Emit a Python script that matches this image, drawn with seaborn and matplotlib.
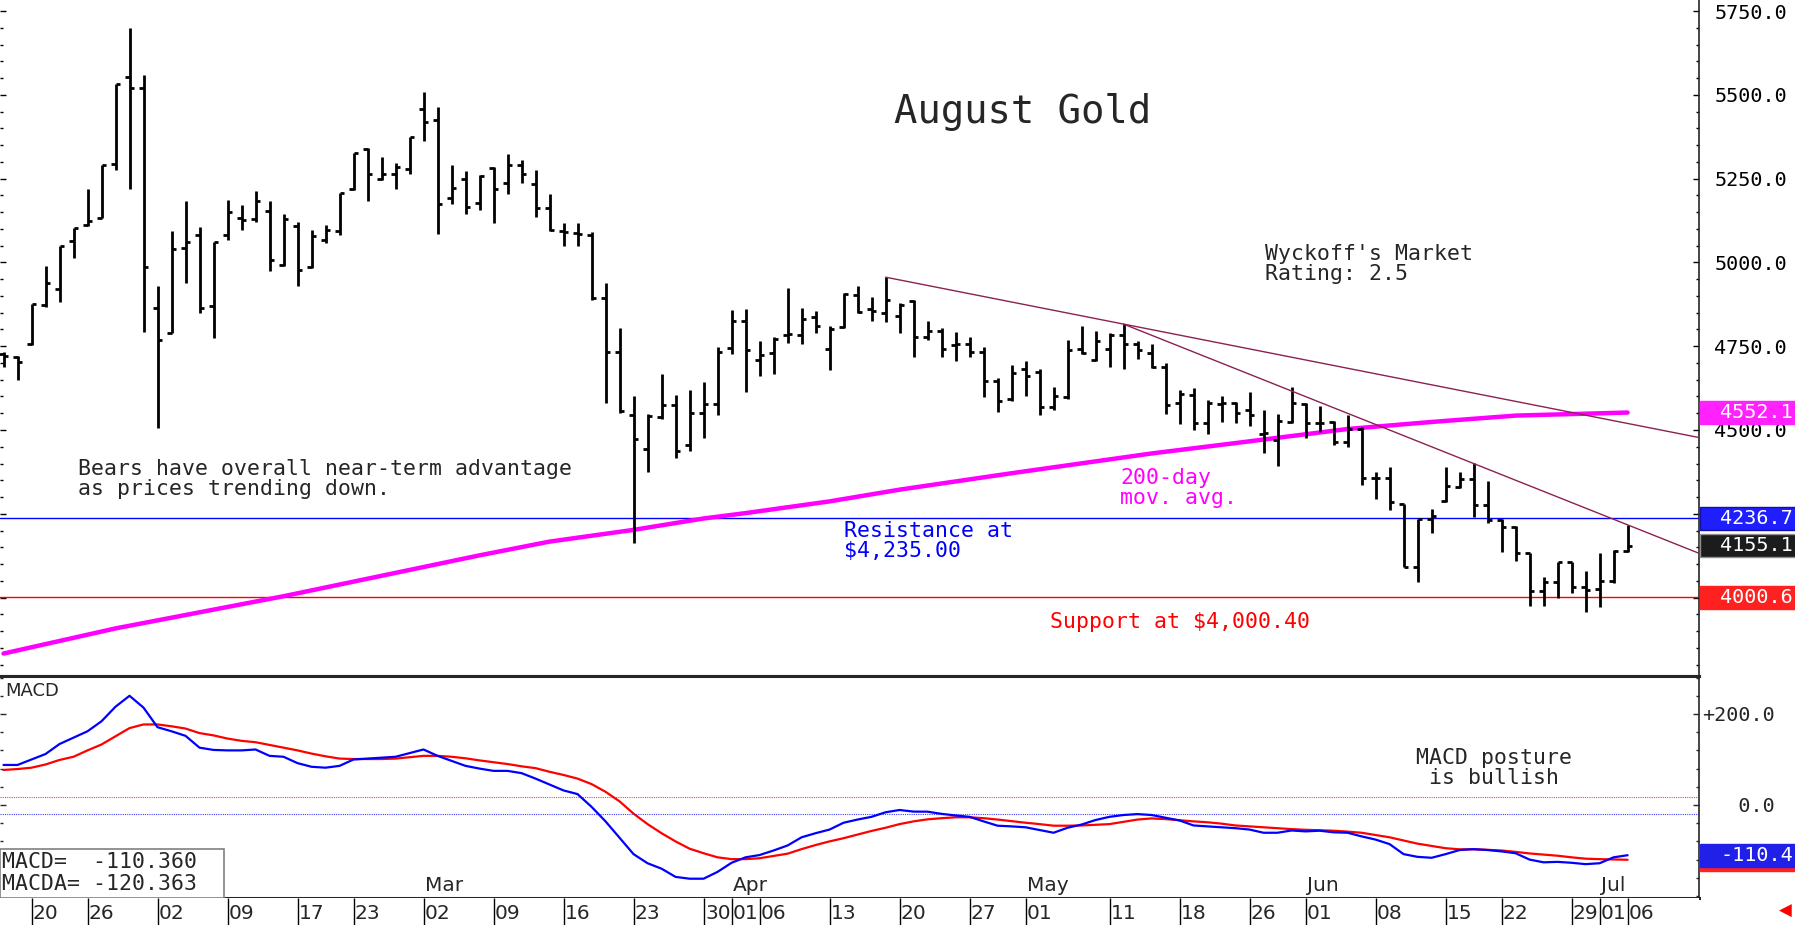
import numpy as np
import pandas as pd
import matplotlib
matplotlib.use("Agg")
import matplotlib.pyplot as plt
import matplotlib.transforms as mtransforms
from matplotlib.patches import Rectangle
from matplotlib.ticker import MultipleLocator, FixedLocator
import seaborn as sns

# ---- data ----
# trading calendar: weekdays minus exchange holidays
holidays = ["2026-01-19", "2026-02-16", "2026-04-03", "2026-05-25", "2026-06-19", "2026-07-03"]
dates = pd.bdate_range("2026-01-15", "2026-07-06", freq="C", holidays=holidays)

opens = [4727, 4717, 4756, 4872, 4922, 5065, 5112, 5134, 5294, 5552,
         5519, 4863, 4788, 5042, 5081, 4871, 5082, 5134, 5129, 5154,
         4992, 5109, 4986, 5067, 5094, 5218, 5338, 5248, 5264, 5280,
         5457, 5425, 5191, 5249, 5178, 5283, 5236, 5291, 5235, 5161,
         5095, 5089, 5082, 4893, 4734, 4545, 4442, 4540, 4575, 4455,
         4550, 4577, 4744, 4826, 4709, 4729, 4782, 4783, 4836, 4743,
         4806, 4903, 4860, 4850, 4840, 4886, 4777, 4795, 4753, 4756,
         4732, 4646, 4592, 4682, 4674, 4568, 4599, 4742, 4710, 4742,
         4782, 4756, 4729, 4687, 4582, 4604, 4520, 4577, 4580, 4560,
         4488, 4470, 4525, 4578, 4522, 4523, 4465, 4503, 4356, 4356,
         4279, 4092, 4234, 4289, 4331, 4354, 4275, 4230, 4212, 4132,
         4020, 4046, 4105, 4033, 4025, 4048, 4139]
highs = [4732, 4721, 4875, 4989, 5050, 5104, 5219, 5291, 5531, 5698,
         5558, 4930, 5094, 5182, 5105, 5062, 5185, 5170, 5212, 5182,
         5143, 5121, 5096, 5112, 5206, 5327, 5340, 5315, 5296, 5375,
         5509, 5463, 5290, 5274, 5260, 5286, 5323, 5307, 5275, 5205,
         5119, 5119, 5092, 4938, 4803, 4601, 4547, 4666, 4604, 4619,
         4644, 4749, 4858, 4860, 4767, 4776, 4923, 4863, 4856, 4810,
         4908, 4930, 4898, 4956, 4880, 4888, 4824, 4805, 4791, 4778,
         4749, 4656, 4693, 4707, 4681, 4629, 4769, 4809, 4795, 4788,
         4816, 4767, 4756, 4701, 4619, 4624, 4590, 4602, 4585, 4614,
         4560, 4548, 4627, 4580, 4572, 4527, 4545, 4510, 4374, 4389,
         4279, 4235, 4264, 4391, 4376, 4401, 4349, 4234, 4215, 4132,
         4061, 4107, 4105, 4079, 4134, 4142, 4217]
lows = [4689, 4649, 4754, 4866, 4883, 5014, 5109, 5132, 5275, 5218,
        4793, 4505, 4788, 4939, 4848, 4774, 5067, 5097, 5120, 4975,
        4989, 4930, 4983, 5057, 5081, 5216, 5184, 5246, 5220, 5264,
        5362, 5084, 5173, 5143, 5156, 5117, 5203, 5238, 5137, 5094,
        5050, 5050, 4888, 4580, 4552, 4162, 4376, 4532, 4416, 4437,
        4477, 4545, 4727, 4614, 4662, 4666, 4759, 4756, 4788, 4679,
        4803, 4848, 4826, 4821, 4790, 4719, 4769, 4717, 4707, 4719,
        4599, 4555, 4588, 4602, 4545, 4560, 4593, 4727, 4707, 4689,
        4681, 4712, 4684, 4548, 4518, 4500, 4488, 4525, 4520, 4512,
        4430, 4394, 4522, 4475, 4495, 4455, 4448, 4336, 4293, 4261,
        4092, 4045, 4192, 4286, 4326, 4240, 4222, 4137, 4109, 3976,
        3976, 3998, 4013, 3956, 3973, 4044, 4137]
closes = [4721, 4704, 4875, 4939, 5050, 5102, 5123, 5291, 5531, 5519,
          4985, 4768, 5040, 5061, 4863, 5062, 5151, 5126, 5183, 5006,
          5129, 4976, 5078, 5097, 5206, 5327, 5263, 5263, 5286, 5375,
          5418, 5174, 5223, 5164, 5259, 5220, 5292, 5263, 5161, 5098,
          5090, 5085, 4893, 4734, 4557, 4472, 4542, 4575, 4438, 4552,
          4577, 4734, 4826, 4739, 4724, 4772, 4786, 4831, 4811, 4801,
          4905, 4852, 4855, 4888, 4873, 4777, 4795, 4743, 4756, 4734,
          4646, 4588, 4671, 4661, 4569, 4601, 4740, 4730, 4767, 4782,
          4756, 4740, 4689, 4575, 4607, 4520, 4580, 4580, 4550, 4545,
          4492, 4527, 4580, 4520, 4521, 4465, 4503, 4356, 4356, 4286,
          4092, 4234, 4242, 4333, 4354, 4275, 4230, 4212, 4132, 4020,
          4046, 4105, 4033, 4023, 4048, 4139, 4155.1]

# 200-day moving average, read at a handful of bars
ma_idx = [0, 8, 20, 34, 39, 45, 50, 53, 59, 64, 72, 82, 88, 96, 102, 108, 116]
ma_val = [3833, 3908, 4004, 4126, 4167, 4202, 4236, 4252, 4287, 4322, 4371,
          4430, 4461, 4503, 4524, 4543, 4552.1]

macd = [88, 88, 100, 112, 134, 148, 162, 184, 216, 240,
        214, 171, 162, 152, 126, 121, 120, 120, 122, 108,
        106, 92, 84, 82, 86, 100, 102, 104, 106, 114,
        122, 108, 97, 86, 80, 75, 75, 70, 58, 45,
        32, 24, -4, -36, -72, -108, -128, -140, -158, -162,
        -162, -147, -127, -115, -110, -100, -89, -71, -62, -54,
        -39, -32, -26, -16, -11, -14.5, -14.7, -19.5, -23, -26,
        -36, -45.5, -47, -49, -55, -61, -50, -43, -33, -26,
        -22, -20, -22, -28, -34, -45, -47, -49, -51, -54,
        -61, -61, -56, -58, -56.5, -60, -61, -69, -76, -86,
        -108, -114, -116, -108, -99, -97, -99, -102, -106, -120,
        -126, -125, -127, -130, -128, -115, -110.36]
macd_avg = [77, 79, 82, 89, 99, 106, 120, 133, 151, 169,
            177, 177, 173, 168, 158, 153, 146, 141, 138, 132,
            126, 120, 113, 107, 102, 101, 101, 101, 102, 105,
            108, 108, 106, 102.6, 98, 94, 90, 85, 81, 73,
            66, 58, 46, 29, 8, -19, -42, -62, -80, -96,
            -106, -115, -119, -119, -117, -112, -107, -97, -88, -80,
            -73, -65, -57, -50, -42, -36, -31.5, -29, -27, -27,
            -29, -32, -35.5, -39, -42, -45.5, -45.5, -45, -43.5, -42,
            -37, -32, -29.5, -31, -33.5, -36, -38, -41, -45, -47,
            -49, -51, -53, -54.5, -55.5, -56.5, -58.5, -61, -66, -71,
            -78, -85, -90, -95, -97.4, -97.4, -98.5, -100, -103, -106.5,
            -109, -111.5, -115, -118, -119, -119.7, -120.363]
macd_ref_red = 18
macd_ref_blue = -20

# trend lines drawn through the highs of these bars, extended to the right edge
trend_pairs = [(63, 80), (80, 116)]
resistance = 4236.7
support = 4000.6

date_ticks = ["2026-01-20", "2026-01-26", "2026-02-02", "2026-02-09", "2026-02-17",
              "2026-02-23", "2026-03-02", "2026-03-09", "2026-03-16", "2026-03-23",
              "2026-03-30", "2026-04-01", "2026-04-06", "2026-04-13", "2026-04-20",
              "2026-04-27", "2026-05-01", "2026-05-11", "2026-05-18", "2026-05-26",
              "2026-06-01", "2026-06-08", "2026-06-15", "2026-06-22", "2026-06-29",
              "2026-07-01", "2026-07-06"]
month_labels = ["Mar", "Apr", "May", "Jun", "Jul"]
price_ticks = [4000, 4250, 4500, 4750, 5000, 5250, 5500, 5750]

# ---- layout ----
sns.set_style("white")
plt.rcParams["font.family"] = ["DejaVu Sans Mono", "DejaVu Sans"]
MONO = "DejaVu Sans Mono"
SANS = "DejaVu Sans"

W, H = 1795, 925
PR = 1699          # right edge of the plot area in pixels
fig = plt.figure(figsize=(W / 100, H / 100), dpi=100)
ax = fig.add_axes([0, 1 - 676 / H, PR / W, 676 / H])
axm = fig.add_axes([0, 27 / H, PR / W, 222 / H])
axd = fig.add_axes([0, 0, PR / W, 27 / H])

df = pd.DataFrame({"date": dates, "open": opens, "high": highs,
                   "low": lows, "close": closes, "macd": macd, "macda": macd_avg})
df["i"] = np.arange(len(df))

xlim = (-0.25, 121.1)
for a in (ax, axm, axd):
    a.set_xlim(*xlim)
    a.set_xticks([])

# ---- price panel ----
ax.set_ylim(3766, 5783)
ax.vlines(df["i"], df["low"], df["high"], color="black", lw=2.0, zorder=4)
ax.hlines(df["open"], df["i"] - 0.35, df["i"], color="black", lw=2.0, zorder=4)
ax.hlines(df["close"], df["i"], df["i"] + 0.35, color="black", lw=2.0, zorder=4)

sns.lineplot(x=ma_idx, y=ma_val, ax=ax, color="#ff00ff", lw=3.2,
             estimator=None, sort=False, legend=False, zorder=3)

for a0, b0 in trend_pairs:
    slope = (highs[b0] - highs[a0]) / (b0 - a0)
    ax.plot([a0, xlim[1]], [highs[a0], highs[a0] + slope * (xlim[1] - a0)],
            color="#8b2252", lw=1.0, zorder=5)

ax.axhline(resistance, color="#0000ff", lw=1.0, zorder=2)
ax.axhline(support, color="#ff0000", lw=1.0, zorder=2)

ax.yaxis.tick_right()
ax.yaxis.set_major_locator(FixedLocator(price_ticks))
ax.yaxis.set_minor_locator(MultipleLocator(50))
# the 4000 label sits fully under the support box, so it is left blank
ax.set_yticklabels(["" if v == 4000 else f"{v:.1f}" for v in price_ticks])
ax.tick_params(axis="y", which="both", left=True, right=True, direction="in",
               labelleft=False, labelright=True, colors="black")
ax.tick_params(axis="y", which="major", length=4, width=1, pad=11, labelsize=14.5)
ax.tick_params(axis="y", which="minor", length=2.5, width=1)
for t in ax.get_yticklabels():
    t.set_fontfamily(MONO)
for s in ("top", "left"):
    ax.spines[s].set_visible(False)
ax.spines["right"].set_linewidth(1.2)
ax.spines["bottom"].set_linewidth(2.2)
ax.set_xlabel("")
ax.set_ylabel("")


def px(x, y, top=0, height=676):
    return x / PR, 1 - (y - top) / height


ax.text(*px(1023, 112), "August Gold", transform=ax.transAxes, ha="center",
        va="center", fontsize=28, family=MONO)
ax.text(*px(1265, 244), "Wyckoff's Market\nRating: 2.5", transform=ax.transAxes,
        ha="left", va="top", fontsize=15.5, family=MONO, linespacing=1.0)
ax.text(*px(78, 459), "Bears have overall near-term advantage\nas prices trending down.",
        transform=ax.transAxes, ha="left", va="top", fontsize=15.5, family=MONO,
        linespacing=1.0)
ax.text(*px(844, 521), "Resistance at\n$4,235.00", transform=ax.transAxes,
        ha="left", va="top", fontsize=15.5, family=MONO, color="#0000ff", linespacing=1.0)
ax.text(*px(1120, 468), "200-day\nmov. avg.", transform=ax.transAxes,
        ha="left", va="top", fontsize=15.5, family=MONO, color="#ff00ff", linespacing=1.0)
ax.text(*px(1050, 612), "Support at $4,000.40", transform=ax.transAxes,
        ha="left", va="top", fontsize=15.5, family=MONO, color="#ff0000")


def value_box(a, value, half, face, edge, text=None):
    tr = mtransforms.blended_transform_factory(a.transAxes, a.transData)
    a.add_patch(Rectangle((1.0008, value - half), 0.06, 2 * half, transform=tr,
                          facecolor=face, edgecolor=edge, lw=1, clip_on=False, zorder=6))
    if text:
        a.text(1.0553, value, text, transform=tr, ha="right", va="center", color="white",
               fontsize=14.5, family=MONO, zorder=7, clip_on=False)


value_box(ax, ma_val[-1], 34, "#ff22ff", "#ff22ff", f"{ma_val[-1]:.1f}")
value_box(ax, resistance, 34, "#1e1eff", "#1010aa", f"{resistance:.1f}")
value_box(ax, closes[-1], 34, "#1c1c1c", "#909090", f"{closes[-1]:.1f}")
value_box(ax, support, 34, "#ff2020", "#ff2020", f"{support:.1f}")

# ---- MACD panel ----
axm.set_ylim(-204.4, 283.5)
axm.axhline(macd_ref_red, color="#ff4040", lw=0.8, ls=(0, (1, 1)))
axm.axhline(macd_ref_blue, color="#4040ff", lw=0.8, ls=(0, (1, 1)))
sns.lineplot(data=df, x="i", y="macda", ax=axm, color="#ff0000", lw=1.6,
             estimator=None, legend=False)
sns.lineplot(data=df, x="i", y="macd", ax=axm, color="#0000ff", lw=1.6,
             estimator=None, legend=False)
axm.set_xlabel("")
axm.set_ylabel("")
axm.yaxis.tick_right()
axm.yaxis.set_major_locator(FixedLocator([0, 200]))
axm.yaxis.set_minor_locator(MultipleLocator(40))
axm.set_yticklabels(["   0.0", "+200.0"])
axm.tick_params(axis="y", which="both", left=True, right=True, direction="in",
                labelleft=False, labelright=True)
axm.tick_params(axis="y", which="major", length=4, width=1, pad=2, labelsize=14.5)
axm.tick_params(axis="y", which="minor", length=2.5, width=1)
for t in axm.get_yticklabels():
    t.set_fontfamily(MONO)
axm.spines["left"].set_visible(False)
axm.spines["top"].set_linewidth(2.2)
axm.spines["bottom"].set_linewidth(2.2)
axm.spines["right"].set_linewidth(1.2)

# signal box sits almost fully behind the MACD box: only its red edge shows
value_box(axm, macd_avg[-1], 25, "#ff2020", "#ff2020")
value_box(axm, macd[-1], 25, "#2020e8", "#2020e8", f"{macd[-1]:.1f}")

axm.text(5 / PR, 1 - 6 / 222, "MACD", transform=axm.transAxes, ha="left", va="top",
         fontsize=13, family=SANS)
axm.text(*px(1416, 748, top=676, height=222), "MACD posture\n is bullish",
         transform=axm.transAxes, ha="left", va="top", fontsize=15.5, family=MONO,
         linespacing=1.0)
axm.add_patch(Rectangle((0, 0), 224 / PR, 49 / 222, transform=axm.transAxes,
                        facecolor="white", edgecolor="#808080", lw=1.2, zorder=6))
axm.text(2 / PR, 0.163, f"MACD=  {macd[-1]:.3f}",
         transform=axm.transAxes, ha="left", va="center", fontsize=15.5, family=MONO, zorder=7)
axm.text(2 / PR, 0.065, f"MACDA= {macd_avg[-1]:.3f}",
         transform=axm.transAxes, ha="left", va="center", fontsize=15.5, family=MONO, zorder=7)

# month labels at the first session of each month
tr_m = mtransforms.blended_transform_factory(axm.transData, axm.transAxes)
for m in month_labels:
    first = df.index[df["date"].dt.strftime("%b") == m][0]
    axm.text(first + 0.12, 0.015, m, transform=tr_m, ha="left", va="bottom",
             fontsize=14.5, family=SANS)

# ---- date row ----
axd.set_ylim(0, 1)
axd.set_yticks([])
for s in axd.spines.values():
    s.set_visible(False)
tick_idx = [dates.get_loc(pd.Timestamp(d)) for d in date_ticks]
axd.vlines(tick_idx, 0, 1, color="black", lw=1.0)
for i, d in zip(tick_idx, date_ticks):
    axd.text(i + 0.1, 0.42, pd.Timestamp(d).strftime("%d"), ha="left", va="center",
             fontsize=14.5, family=SANS)

fig.text(1785 / W, 1 - 911 / H, "◀", color="#ff0000", ha="center", va="center",
         fontsize=12, family=SANS)

fig.savefig("out.png", dpi=100)
